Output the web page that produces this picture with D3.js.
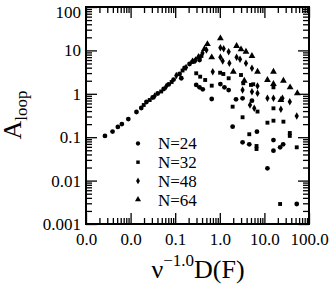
<!DOCTYPE html>
<html><head><meta charset="utf-8">
<script src="https://cdn.jsdelivr.net/npm/d3@7"></script>
<style>body{margin:0;background:#fff}svg{display:block}text{font-family:"Liberation Serif","DejaVu Serif",serif;fill:#000}</style>
</head><body>
<svg id="c" width="332" height="285"></svg>
<script>
const xMajor=[0.001,0.01,0.1,1,10,100];
const yMajor=[0.001,0.01,0.1,1,10,100];
const seriesNames=["N=24","N=32","N=48","N=64"];

const n24x=[0.00266,0.00394,0.00518,0.00637,0.00889,0.01355,0.01734,0.02265,0.0313,0.0405,0.0551,0.0713,0.0921,0.1253,0.137,0.1622,0.2094,0.271,0.351,0.296,0.351,0.415,0.659,1.03,1.27,1.58,2.31,3.24,5.26,1.94,3.24,4.58,6.80,15.96,15.96,22.5,26.3,11.7,53.1];
const n24y=[0.107,0.135,0.172,0.201,0.262,0.381,0.471,0.647,0.822,1.016,1.29,1.64,2.13,2.86,2.28,3.93,4.86,5.70,6.01,1.60,1.41,1.27,0.759,1.68,1.41,1.22,0.746,0.787,0.693,0.175,0.0762,0.0685,0.134,0.0861,0.0489,0.0585,0.0685,0.0192,0.00289];

const n32x=[0.0197,0.02683,0.0484,0.0832,0.1462,0.2443,0.388,0.296,0.363,0.470,0.659,1.016,1.20,1.58,2.99,3.36,5.00,5.62,1.94,3.24,7.01,4.58,6.66,6.66,11.7,15.96,26.7,15.96,37.1,37.1,53.1,22.5,15.96];
const n32y=[0.552,0.719,1.13,1.87,3.44,5.41,7.43,2.97,2.48,2.08,1.54,3.06,2.86,2.28,2.71,1.75,1.60,1.66,0.505,0.288,0.39,0.117,0.0627,0.0534,0.216,0.240,0.228,0.463,0.125,0.107,0.0585,0.00289,1.41];

const n48x=[0.0347,0.0627,0.1059,0.175,0.285,0.409,0.502,1.03,1.22,1.58,1.03,1.16,1.64,2.38,2.84,3.86,5.26,3.24,5.26,7.01,7.01,4.75,5.92,11.7,15.96,25.4,37.1,23.4,53.1,0.695];
const n48y=[0.889,1.47,2.64,4.04,6.01,8.71,10.2,11.5,10.9,9.33,6.93,5.70,5.05,6.93,6.24,5.05,3.87,1.22,1.12,1.03,1.51,0.552,0.463,0.787,0.787,0.787,0.658,0.440,0.308,3.23];

const n64x=[0.2443,0.333,0.453,0.528,1.03,2.38,2.99,3.86,5.26,0.659,7.01,2.01,3.54,15.96,11.7,26.7,37.7,54.8,15.96,23.4];
const n64y=[5.6,7.05,10.8,14.0,19.0,12.6,10.6,9.33,7.43,6.93,3.23,3.23,2.00,3.23,2.08,2.00,1.41,1.03,1.68,0.719];

const svg=d3.select("#c");
const L=86,R=309,T=7,B=224;
const x=d3.scaleLog().domain([0.001,100]).range([L,R]);
const y=d3.scaleLog().domain([0.001,100]).range([B,T]);

function minors(){const m=[];for(let e=-3;e<2;e++)for(let k=2;k<10;k++)m.push(k*Math.pow(10,e));return m;}
const xMinor=minors(), yMinor=minors();
const MAJ=11, MIN=6;

function styleAxis(g){g.select(".domain").remove();g.selectAll(".tick line").attr("stroke","#000").attr("stroke-width",1.3);}

// bottom
svg.append("g").attr("transform",`translate(0,${B})`)
  .call(d3.axisBottom(x).tickValues(xMinor).tickSizeInner(-MIN).tickSizeOuter(0).tickFormat(""))
  .call(styleAxis);
svg.append("g").attr("transform",`translate(0,${B})`)
  .call(d3.axisBottom(x).tickValues(xMajor).tickSizeInner(-MAJ).tickSizeOuter(0).tickPadding(6).tickFormat(d3.format(".1f")))
  .call(styleAxis)
  .call(g=>g.selectAll("text").attr("font-size",17).attr("dy","0.9em").style("font-family","Liberation Serif"));
// top
svg.append("g").attr("transform",`translate(0,${T})`)
  .call(d3.axisTop(x).tickValues(xMinor).tickSizeInner(-MIN).tickSizeOuter(0).tickFormat("")).call(styleAxis);
svg.append("g").attr("transform",`translate(0,${T})`)
  .call(d3.axisTop(x).tickValues(xMajor).tickSizeInner(-MAJ).tickSizeOuter(0).tickFormat("")).call(styleAxis);
// left
svg.append("g").attr("transform",`translate(${L},0)`)
  .call(d3.axisLeft(y).tickValues(yMinor).tickSizeInner(-MIN).tickSizeOuter(0).tickFormat("")).call(styleAxis);
svg.append("g").attr("transform",`translate(${L},0)`)
  .call(d3.axisLeft(y).tickValues(yMajor).tickSizeInner(-MAJ).tickSizeOuter(0).tickPadding(5).tickFormat(d3.format("~g")))
  .call(styleAxis)
  .call(g=>g.selectAll("text").attr("font-size",17).style("font-family","Liberation Serif")
    .attr("dy",d=>d===100?"0.62em":"0.32em"));
// right
svg.append("g").attr("transform",`translate(${R},0)`)
  .call(d3.axisRight(y).tickValues(yMinor).tickSizeInner(-MIN).tickSizeOuter(0).tickFormat("")).call(styleAxis);
svg.append("g").attr("transform",`translate(${R},0)`)
  .call(d3.axisRight(y).tickValues(yMajor).tickSizeInner(-MAJ).tickSizeOuter(0).tickFormat("")).call(styleAxis);

svg.append("rect").attr("x",L).attr("y",T).attr("width",R-L).attr("height",B-T)
  .attr("fill","none").attr("stroke","#000").attr("stroke-width",2);

const shapes=[d3.symbolCircle,d3.symbolSquare,d3.symbolDiamond,d3.symbolTriangle];
const sizes=[18,15,16,20];
const series=[[n24x,n24y],[n32x,n32y],[n48x,n48y],[n64x,n64y]];
series.forEach((s,i)=>{
  const sym=d3.symbol().type(shapes[i]).size(sizes[i]);
  svg.append("g").selectAll("path").data(s[0].map((v,j)=>[v,s[1][j]])).join("path")
    .attr("d",sym).attr("fill","#000")
    .attr("transform",d=>`translate(${x(d[0])},${y(d[1])})`);
});

// legend
const lg=svg.append("g");
seriesNames.forEach((n,i)=>{
  const yy=143.5+i*18.7;
  lg.append("path").attr("d",d3.symbol().type(shapes[i]).size(sizes[i]*0.8)()).attr("fill","#000")
    .attr("transform",`translate(138,${yy})`);
  lg.append("text").attr("x",158).attr("y",yy).attr("dy","0.35em").attr("font-size",17).text(n);
});

// axis titles
const xt=svg.append("text").attr("x",198).attr("y",278).attr("text-anchor","middle").attr("font-size",26);
xt.append("tspan").text("ν");
xt.append("tspan").attr("dy",-12).attr("font-size",17).text("−1.0");
xt.append("tspan").attr("dy",12).text("D(F)");

const yt=svg.append("text").attr("transform","translate(21,115) rotate(-90)").attr("text-anchor","middle").attr("font-size",26);
yt.append("tspan").text("A");
yt.append("tspan").attr("dy",6).attr("font-size",17).text("loop");
</script>
</body></html>
